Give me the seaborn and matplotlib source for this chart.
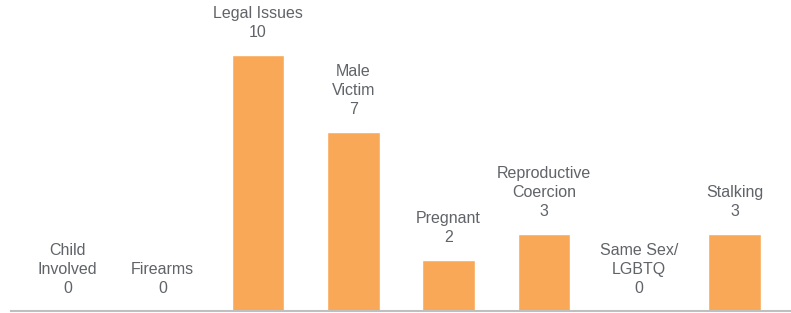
import matplotlib
matplotlib.use("Agg")
import matplotlib.pyplot as plt
import seaborn as sns
import pandas as pd

categories = ["Child\nInvolved", "Firearms", "Legal Issues", "Male\nVictim", "Pregnant",
              "Reproductive\nCoercion", "Same Sex/\nLGBTQ", "Stalking"]
values = [0, 0, 10, 7, 2, 3, 0, 3]

df = pd.DataFrame({"category": categories, "value": values})

sns.set_style("white")
plt.rcParams['font.family'] = ['Liberation Sans', 'DejaVu Sans']

fig = plt.figure(figsize=(7.91, 3.13), dpi=100)
ax = fig.add_axes([11/791, 2/313, 1 - 11/791, 311/313])

sns.barplot(data=df, x="category", y="value", color="#F9A857", saturation=1,
            width=0.55, ax=ax)

ax.set_xlim(-0.592, 7.593)
ax.set_ylim(0, 12.15)

for i, (c, v) in enumerate(zip(categories, values)):
    ax.annotate(f"{c}\n{v}", xy=(i, v), xytext=(0, 11), textcoords="offset points",
                ha="center", va="bottom", fontsize=11.5, color="#606368",
                linespacing=1.33)

for s in ["top", "right", "left"]:
    ax.spines[s].set_visible(False)
ax.spines["bottom"].set_color("#bfbfbf")
ax.spines["bottom"].set_linewidth(1.5)
ax.set_xticks([])
ax.set_yticks([])
ax.set_xlabel("")
ax.set_ylabel("")

fig.savefig("out.png", dpi=100)
